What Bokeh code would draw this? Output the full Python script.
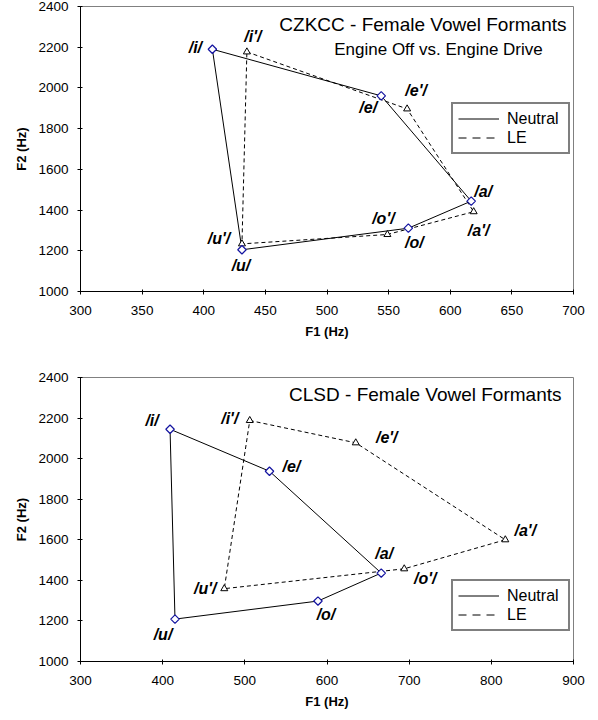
from bokeh.plotting import figure
from bokeh.models import ColumnDataSource, Legend, LegendItem, Label, FixedTicker
from bokeh.layouts import column
from bokeh.embed import file_html
from bokeh.resources import INLINE
from bokeh.core.properties import value

# ---------------- data ----------------
vowels = ["i", "e", "a", "o", "u"]

# CZKCC (top chart)
cz_neutral_f1 = [407, 544, 617, 566, 431]
cz_neutral_f2 = [2190, 1961, 1444, 1311, 1205]
cz_le_f1 = [435, 565, 619, 549, 431]
cz_le_f2 = [2177, 1897, 1392, 1280, 1234]

# CLSD (bottom chart)
clsd_neutral_f1 = [409, 530, 666, 589, 415]
clsd_neutral_f2 = [2145, 1938, 1436, 1298, 1209]
clsd_le_f1 = [506, 635, 817, 694, 475]
clsd_le_f2 = [2188, 2078, 1600, 1457, 1359]

cz_x_ticks = [300, 350, 400, 450, 500, 550, 600, 650, 700]
clsd_x_ticks = [300, 400, 500, 600, 700, 800, 900]
y_ticks = [1000, 1200, 1400, 1600, 1800, 2000, 2200, 2400]

# ---------------- label placement (screen px, +dy = down) ----------------
cz_neutral_off = [(-17, -2), (-13, 12), (12, -10), (6, 14), (-1, 16)]
cz_le_off = [(6, -15), (9, -18), (5, 19), (-4, -16), (-23, -5)]
clsd_neutral_off = [(-18, -9), (22, -5), (3, -20), (8, 13), (-12, 15)]
clsd_le_off = [(-20, -2), (31, -5), (20, -9), (21, 10), (-19, 0)]

FONT = "Liberation Sans"
NEUTRAL_MARK = "#1414A0"
NAN = float("nan")


def make_chart(n_f1, n_f2, l_f1, l_f2, n_off, l_off, x_ticks, titles,
               height, top, bottom, legend_y):
    p = figure(width=590, height=height, output_backend="svg", toolbar_location=None,
               x_range=(x_ticks[0], x_ticks[-1]), y_range=(y_ticks[0], y_ticks[-1]),
               min_border_left=80, min_border_right=17,
               min_border_top=top, min_border_bottom=bottom)
    p.background_fill_color = "white"
    p.border_fill_color = "white"
    p.outline_line_color = "#808080"
    p.grid.visible = False

    # polygons (closed)
    p.line(n_f1 + n_f1[:1], n_f2 + n_f2[:1], line_color="black", line_width=1)
    p.line(l_f1 + l_f1[:1], l_f2 + l_f2[:1], line_color="black", line_width=1,
           line_dash="4 3")

    p.scatter(l_f1, l_f2, marker="triangle", size=7, line_color="black",
              fill_color="white", line_width=1)
    p.scatter(n_f1, n_f2, marker="square", angle=0.785398, size=6,
              line_color=NEUTRAL_MARK, fill_color="white", line_width=1.2)

    src = ColumnDataSource(dict(
        x=n_f1 + l_f1,
        y=n_f2 + l_f2,
        t=[f"/{v}/" for v in vowels] + [f"/{v}'/" for v in vowels],
        dx=[o[0] for o in n_off] + [o[0] for o in l_off],
        dy=[o[1] for o in n_off] + [o[1] for o in l_off],
    ))
    p.text(x="x", y="y", text="t", x_offset="dx", y_offset="dy", source=src,
           text_font=value(FONT), text_font_size="16px", text_font_style="bold italic",
           text_align="center", text_baseline="middle", text_color="black")

    # axes
    for ax in (p.xaxis[0], p.yaxis[0]):
        ax.axis_line_color = "black"
        ax.major_tick_line_color = "black"
        ax.minor_tick_line_color = None
        ax.major_tick_in = 2
        ax.major_tick_out = 3
        ax.major_label_text_font = FONT
        ax.major_label_text_font_size = "13.5px"
        ax.major_label_text_color = "black"
        ax.axis_label_text_font = FONT
        ax.axis_label_text_font_size = "13px"
        ax.axis_label_text_font_style = "bold"
        ax.axis_label_text_color = "black"
    p.xaxis.ticker = FixedTicker(ticks=x_ticks)
    p.yaxis.ticker = FixedTicker(ticks=y_ticks)
    p.xaxis.axis_label = "F1 (Hz)"
    p.yaxis.axis_label = "F2 (Hz)"
    p.xaxis.major_label_standoff = 11
    p.xaxis.axis_label_standoff = 6
    p.yaxis.major_label_standoff = 9
    p.yaxis.axis_label_standoff = 6

    # titles inside plot area
    for (txt, x, y, align, size) in titles:
        p.add_layout(Label(x=x, y=y, x_units="screen", y_units="screen", text=txt,
                           text_font=FONT, text_font_size=size, text_align=align,
                           text_baseline="middle", text_color="black"))

    # legend uses separate proxy lines (no visible data) with a longer dash
    n_proxy = p.line([NAN, NAN], [NAN, NAN], line_color="black", line_width=1)
    l_proxy = p.line([NAN, NAN], [NAN, NAN], line_color="black", line_width=1,
                     line_dash="8 6")
    legend = Legend(items=[LegendItem(label="Neutral", renderers=[n_proxy]),
                           LegendItem(label="LE", renderers=[l_proxy])],
                    location=(371, legend_y))
    legend.border_line_color = "black"
    legend.border_line_width = 2
    legend.background_fill_color = "white"
    legend.padding = 5
    legend.margin = 0
    legend.spacing = 0
    legend.glyph_width = 41
    legend.glyph_height = 19
    legend.label_standoff = 8
    legend.label_width = 56
    legend.label_height = 19
    legend.label_text_font = FONT
    legend.label_text_font_size = "16px"
    legend.label_text_color = "black"
    p.add_layout(legend, "center")
    return p


p1 = make_chart(cz_neutral_f1, cz_neutral_f2, cz_le_f1, cz_le_f2,
                cz_neutral_off, cz_le_off, cz_x_ticks,
                [("CZKCC - Female Vowel Formants", 486, 267, "right", "19px"),
                 ("Engine Off vs. Engine Drive", 358, 242, "center", "17px")],
                height=344, top=6, bottom=53, legend_y=137)

p2 = make_chart(clsd_neutral_f1, clsd_neutral_f2, clsd_le_f1, clsd_le_f2,
                clsd_neutral_off, clsd_le_off, clsd_x_ticks,
                [("CLSD - Female Vowel Formants", 481, 267, "right", "19px")],
                height=368, top=33, bottom=51, legend_y=30)

layout = column(p1, p2, spacing=0)
open("out.html", "w").write(file_html(layout, INLINE))
